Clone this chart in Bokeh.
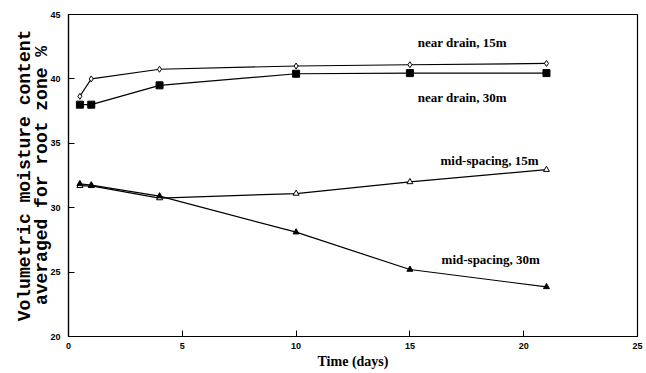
from bokeh.plotting import figure
from bokeh.models import Range1d, FixedTicker, ColumnDataSource
from bokeh.core.properties import value
from bokeh.embed import file_html
from bokeh.resources import INLINE

# Data
days = [0.5, 1, 4, 10, 15, 21]
near_drain_15m = [38.65, 40.0, 40.75, 41.0, 41.1, 41.2]
near_drain_30m = [38.0, 38.0, 39.5, 40.4, 40.45, 40.45]
mid_spacing_15m = [31.7, 31.7, 30.75, 31.1, 32.0, 32.95]
mid_spacing_30m = [31.85, 31.75, 30.9, 28.1, 25.2, 23.85]

label_texts = ["near drain, 15m", "near drain, 30m", "mid-spacing, 15m", "mid-spacing, 30m"]
label_x = [17.3, 17.3, 18.5, 18.55]
label_y = [42.8, 38.55, 33.65, 26.0]

x_ticks = [0, 5, 10, 15, 20, 25]
y_ticks = [20, 25, 30, 35, 40, 45]

p = figure(width=646, height=373, output_backend="svg", toolbar_location=None,
           x_range=Range1d(0, 25), y_range=Range1d(20, 45),
           min_border_left=68, min_border_right=9, min_border_top=14, min_border_bottom=37)
p.grid.visible = False
p.background_fill_color = "white"
p.border_fill_color = "white"
p.outline_line_color = "black"
p.outline_line_width = 1.2

for ax in (p.xaxis[0], p.yaxis[0]):
    ax.major_tick_in = 6
    ax.major_tick_out = 0
    ax.minor_tick_in = 0
    ax.minor_tick_out = 0
    ax.axis_line_color = "black"
    ax.axis_line_width = 1.2
    ax.major_tick_line_color = "black"
    ax.major_label_text_font = "Liberation Sans"
    ax.major_label_text_font_style = "bold"
    ax.major_label_text_font_size = "9px"
    ax.major_label_text_color = "black"

p.xaxis[0].ticker = FixedTicker(ticks=x_ticks)
p.yaxis[0].ticker = FixedTicker(ticks=y_ticks)
p.xaxis[0].major_label_standoff = 6
p.yaxis[0].major_label_standoff = 8

p.xaxis[0].axis_label = "Time (days)"
p.xaxis[0].axis_label_text_font = "Liberation Serif"
p.xaxis[0].axis_label_text_font_style = "bold"
p.xaxis[0].axis_label_text_font_size = "14px"
p.xaxis[0].axis_label_text_color = "black"
p.xaxis[0].axis_label_standoff = 2

p.yaxis[0].axis_label = "Volumetric moisture content\naveraged for root zone %"
p.yaxis[0].axis_label_text_font = "Liberation Mono"
p.yaxis[0].axis_label_text_font_style = "bold"
p.yaxis[0].axis_label_text_font_size = "18px"
p.yaxis[0].axis_label_text_color = "black"
p.yaxis[0].axis_label_text_line_height = 0.85
p.yaxis[0].axis_label_standoff = -5

lw = 1.2
p.line(days, near_drain_15m, line_color="black", line_width=lw)
p.scatter(days, near_drain_15m, marker="diamond", size=6, line_color="black", fill_color="white", line_width=1)

p.line(days, near_drain_30m, line_color="black", line_width=lw)
p.scatter(days, near_drain_30m, marker="square", size=7, line_color="black", fill_color="black")

p.line(days, mid_spacing_15m, line_color="black", line_width=lw)
p.scatter(days, mid_spacing_15m, marker="triangle", size=6, line_color="black", fill_color="white", line_width=1)

p.line(days, mid_spacing_30m, line_color="black", line_width=lw)
p.scatter(days, mid_spacing_30m, marker="triangle", size=6, line_color="black", fill_color="black")

src = ColumnDataSource(dict(x=label_x, y=label_y, t=label_texts))
p.text(x="x", y="y", text="t", source=src, text_align="center", text_baseline="middle",
       text_font=value("Liberation Serif"), text_font_style="bold", text_font_size="13px",
       text_color="black")

open("out.html", "w").write(file_html(p, INLINE))
